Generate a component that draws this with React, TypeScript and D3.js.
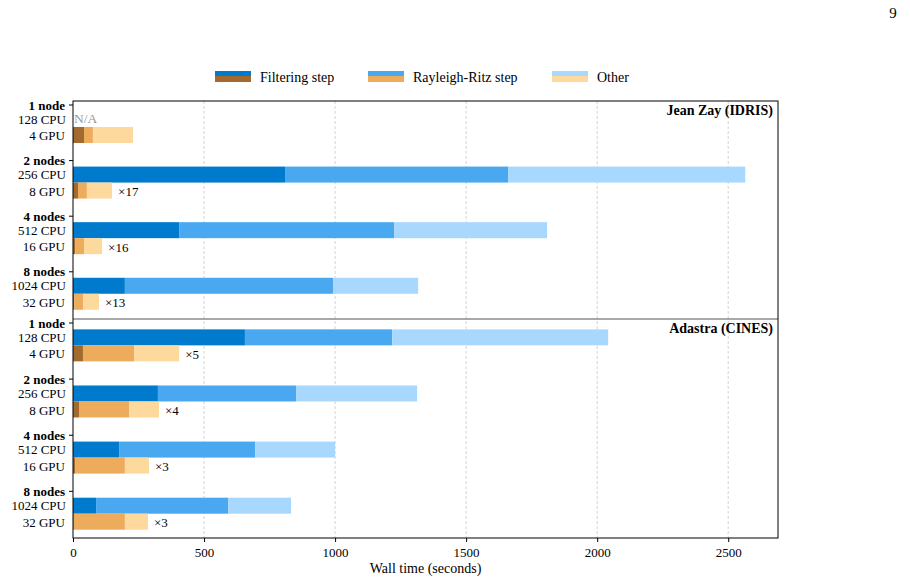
import * as d3 from "d3";
import React, { useRef, useEffect } from "react";

// Cluster configurations (node count / CPU cores / GPUs)
const nodeLabels = ["1 node", "2 nodes", "4 nodes", "8 nodes"];
const cpuLabels = ["128 CPU", "256 CPU", "512 CPU", "1024 CPU"];
const gpuLabels = ["4 GPU", "8 GPU", "16 GPU", "32 GPU"];

const machines = ["Jean Zay (IDRIS)", "Adastra (CINES)"];
const steps = ["Filtering step", "Rayleigh-Ritz step", "Other"];

// Wall time per step in seconds: [filtering, rayleigh-ritz, other]; null = not run
const jeanZayCpu: (number[] | null)[] = [
  null,
  [809, 851, 905],
  [405, 820, 584],
  [198, 794, 325],
];
const jeanZayGpu = [
  [42, 34, 153],
  [19, 34, 96],
  [8, 34, 69],
  [5, 33, 61],
];
const adastraCpu: (number[] | null)[] = [
  [656, 562, 824],
  [324, 527, 462],
  [176, 519, 305],
  [88, 504, 240],
];
const adastraGpu = [
  [38, 195, 172],
  [23, 191, 114],
  [8, 190, 92],
  [3, 195, 88],
];

const cpuColors = ["#007acc", "#4aa8f0", "#a9d8ff"];
const gpuColors = ["#a36a30", "#edab5c", "#fed99e"];

const xTicks = [0, 500, 1000, 1500, 2000, 2500];

const FONT = "Liberation Serif, DejaVu Serif, serif";

const App: React.FC = () => {
  const svgRef = useRef<SVGSVGElement | null>(null);

  useEffect(() => {
    const width = 910;
    const height = 582;
    const margin = { top: 101, right: 132, bottom: 44, left: 73 };
    const plotRight = width - margin.right;
    const plotBottom = height - margin.bottom;

    const svg = d3.select(svgRef.current)
      .attr("width", width)
      .attr("height", height)
      .attr("font-family", FONT)
      .html("");

    const x = d3.scaleLinear().domain([0, 2690]).range([margin.left, plotRight]);

    const panelSplit = 319;
    const panels = [
      { title: machines[0], cpu: jeanZayCpu, gpu: jeanZayGpu, top: margin.top, bottom: panelSplit - 1 },
      { title: machines[1], cpu: adastraCpu, gpu: adastraGpu, top: panelSplit, bottom: plotBottom },
    ];

    const label = (sel: d3.Selection<any, any, any, any>, size = 14) =>
      sel.append("text").attr("font-family", FONT).attr("font-size", size);

    // Page number
    label(svg, 15)
      .attr("x", 893).attr("y", 18)
      .attr("text-anchor", "middle")
      .text("9");

    // Grid lines
    svg.append("g")
      .selectAll("line")
      .data(xTicks.filter(d => d > 0))
      .enter()
      .append("line")
      .attr("x1", d => x(d)).attr("x2", d => x(d))
      .attr("y1", margin.top).attr("y2", plotBottom)
      .attr("stroke", "#c8c8c8")
      .attr("stroke-width", 0.8)
      .attr("stroke-dasharray", "3,2");

    const barH = 16;

    panels.forEach(panel => {
      const y = d3.scaleBand<string>()
        .domain(nodeLabels)
        .range([panel.top, panel.bottom])
        .paddingInner(0.245)
        .paddingOuter(0.074)
        .align(0);
      const bw = y.bandwidth();

      const g = svg.append("g");

      nodeLabels.forEach((node, i) => {
        const y0 = y(node)!;
        const tickY = y0 + 4;
        const cpuY = y0 + bw - 2 * barH;
        const gpuY = y0 + bw - barH;

        const drawStack = (vals: number[], colors: string[], yy: number) => {
          let acc = 0;
          vals.forEach((v, k) => {
            g.append("rect")
              .attr("x", x(acc))
              .attr("y", yy)
              .attr("width", x(acc + v) - x(acc))
              .attr("height", barH)
              .attr("fill", colors[k]);
            acc += v;
          });
          return acc;
        };

        const cpu = panel.cpu[i];
        let cpuTotal = 0;
        if (cpu) {
          cpuTotal = drawStack(cpu, cpuColors, cpuY);
        } else {
          label(g, 13.5)
            .attr("x", x(0) + 1)
            .attr("y", cpuY + barH / 2 - 1)
            .attr("dy", "0.35em")
            .attr("fill", "#999")
            .text("N/A");
        }
        const gpuTotal = drawStack(panel.gpu[i], gpuColors, gpuY);

        if (cpu) {
          label(g, 13)
            .attr("x", x(gpuTotal) + 6)
            .attr("y", gpuY + barH / 2 + 1)
            .attr("dy", "0.35em")
            .text(`×${Math.round(cpuTotal / gpuTotal)}`);
        }

        // Row labels
        g.append("line")
          .attr("x1", margin.left - 4).attr("x2", margin.left)
          .attr("y1", tickY).attr("y2", tickY)
          .attr("stroke", "black");
        label(g, 13)
          .attr("x", margin.left - 8).attr("y", tickY)
          .attr("dy", "0.35em")
          .attr("text-anchor", "end")
          .attr("font-weight", "bold")
          .text(node);
        label(g, 13)
          .attr("x", margin.left - 7).attr("y", cpuY + barH / 2)
          .attr("dy", "0.35em")
          .attr("text-anchor", "end")
          .text(cpuLabels[i]);
        label(g, 13)
          .attr("x", margin.left - 8).attr("y", gpuY + barH / 2 + 0.5)
          .attr("dy", "0.35em")
          .attr("text-anchor", "end")
          .text(gpuLabels[i]);
      });

      label(g)
        .attr("x", plotRight - 5)
        .attr("y", panel.top + 14)
        .attr("text-anchor", "end")
        .attr("font-weight", "bold")
        .text(panel.title);
    });

    // Separator between machines
    svg.append("line")
      .attr("x1", margin.left).attr("x2", plotRight)
      .attr("y1", panelSplit).attr("y2", panelSplit)
      .attr("stroke", "#555").attr("stroke-width", 1.2);

    // Frame
    svg.append("rect")
      .attr("x", margin.left).attr("y", margin.top)
      .attr("width", plotRight - margin.left)
      .attr("height", plotBottom - margin.top)
      .attr("fill", "none")
      .attr("stroke", "black")
      .attr("stroke-width", 1);

    // X axis
    const xAxis = svg.append("g")
      .attr("transform", `translate(0,${plotBottom})`)
      .call(d3.axisBottom(x).tickValues(xTicks).tickFormat(d3.format("d")).tickSize(4).tickSizeOuter(0));
    xAxis.select(".domain").remove();
    xAxis.selectAll("text")
      .attr("font-family", FONT)
      .attr("font-size", 13)
      .attr("fill", "black")
      .attr("dy", "0.9em");
    xAxis.attr("font-family", FONT);

    label(svg)
      .attr("x", (margin.left + plotRight) / 2)
      .attr("y", 573)
      .attr("text-anchor", "middle")
      .text("Wall time (seconds)");

    // Legend: each swatch shows the CPU colour over the GPU colour
    const legendX = [215, 368, 552];
    const legend = svg.append("g");
    steps.forEach((s, i) => {
      legend.append("rect")
        .attr("x", legendX[i]).attr("y", 71)
        .attr("width", 36).attr("height", 5)
        .attr("fill", cpuColors[i]);
      legend.append("rect")
        .attr("x", legendX[i]).attr("y", 76)
        .attr("width", 36).attr("height", 6)
        .attr("fill", gpuColors[i]);
      label(legend)
        .attr("x", legendX[i] + 45).attr("y", 77)
        .attr("dy", "0.35em")
        .text(s);
    });
  }, []);

  return <svg ref={svgRef} style={{ position: "absolute", left: 0, top: 0 }}></svg>;
};

export default App;
